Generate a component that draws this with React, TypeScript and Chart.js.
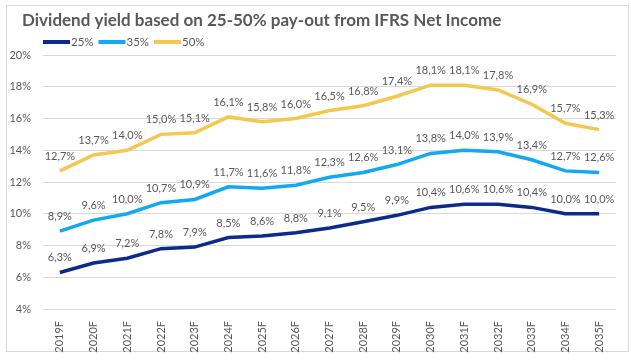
import React, { useEffect, useRef } from 'react';
import { Chart, registerables } from 'chart.js';

Chart.register(...registerables);

const titleText = 'Dividend yield based on 25-50% pay-out from IFRS Net Income';
const years = ['2019F', '2020F', '2021F', '2022F', '2023F', '2024F', '2025F', '2026F', '2027F', '2028F', '2029F', '2030F', '2031F', '2032F', '2033F', '2034F', '2035F'];
const seriesNames = ['25%', '35%', '50%'];
const payout25 = [6.3, 6.9, 7.2, 7.8, 7.9, 8.5, 8.6, 8.8, 9.1, 9.5, 9.9, 10.4, 10.6, 10.6, 10.4, 10.0, 10.0];
const payout35 = [8.9, 9.6, 10.0, 10.7, 10.9, 11.7, 11.6, 11.8, 12.3, 12.6, 13.1, 13.8, 14.0, 13.9, 13.4, 12.7, 12.6];
const payout50 = [12.7, 13.7, 14.0, 15.0, 15.1, 16.1, 15.8, 16.0, 16.5, 16.8, 17.4, 18.1, 18.1, 17.8, 16.9, 15.7, 15.3];
const yMin = 4;
const yMax = 20;
const yStep = 2;

const colors = ['#0c2a8c', '#12a9f2', '#f4c84e'];
const textColor = '#595959';
const font = 'Lato, "Open Sans", sans-serif';

const fmt = (v: number) => v.toFixed(1).replace('.', ',') + '%';

const decorPlugin = {
  id: 'decor',
  beforeDraw(chart: any) {
    const ctx = chart.ctx;
    ctx.save();
    ctx.fillStyle = '#ffffff';
    ctx.fillRect(0, 0, chart.width, chart.height);
    ctx.strokeStyle = '#d9d9d9';
    ctx.lineWidth = 1;
    ctx.strokeRect(6.5, 5.5, 622, 346);
    ctx.restore();
  },
  afterDraw(chart: any) {
    const ctx = chart.ctx;
    ctx.save();
    // title
    ctx.fillStyle = textColor;
    ctx.font = `bold 17px ${font}`;
    ctx.textAlign = 'left';
    ctx.textBaseline = 'alphabetic';
    ctx.fillText(titleText, 22, 26, 481);
    // legend
    ctx.font = `11.5px ${font}`;
    ctx.textBaseline = 'middle';
    seriesNames.forEach((name, i) => {
      const x = 43 + i * 55.5;
      ctx.strokeStyle = colors[i];
      ctx.lineWidth = 4;
      ctx.beginPath();
      ctx.moveTo(x, 42);
      ctx.lineTo(x + 27, 42);
      ctx.stroke();
      ctx.fillStyle = textColor;
      ctx.fillText(name, x + 28, 42.5);
    });
    ctx.restore();
  },
  afterDatasetsDraw(chart: any) {
    const ctx = chart.ctx;
    ctx.save();
    ctx.font = `11px ${font}`;
    ctx.fillStyle = textColor;
    ctx.textAlign = 'center';
    ctx.textBaseline = 'alphabetic';
    chart.data.datasets.forEach((ds: any, di: number) => {
      const meta = chart.getDatasetMeta(di);
      meta.data.forEach((pt: any, i: number) => {
        ctx.fillText(fmt(ds.data[i]), pt.x, pt.y - 11);
      });
    });
    ctx.restore();
  },
};

export default function App() {
  const ref = useRef<HTMLCanvasElement>(null);
  useEffect(() => {
    if (!ref.current) return;
    const chart = new Chart(ref.current, {
      type: 'line',
      data: {
        labels: years,
        datasets: [payout25, payout35, payout50].map((d, i) => ({
          label: seriesNames[i],
          data: d,
          borderColor: colors[i],
          backgroundColor: colors[i],
          borderWidth: 3.5,
          pointRadius: 0,
          tension: 0,
          fill: false,
        })),
      },
      options: {
        responsive: false,
        animation: false,
        devicePixelRatio: 1,
        layout: { padding: { top: 55, right: 15, left: 0, bottom: 0 } },
        plugins: {
          legend: { display: false },
          title: { display: false },
          tooltip: { enabled: false },
        },
        scales: {
          x: {
            offset: true,
            grid: { display: false },
            border: { display: false },
            ticks: {
              autoSkip: false,
              minRotation: 90,
              maxRotation: 90,
              padding: 4,
              color: textColor,
              font: { family: font, size: 11 },
            },
            afterFit: (s: any) => { s.height = 52; },
          },
          y: {
            min: yMin,
            max: yMax,
            border: { display: false },
            grid: { color: '#d9d9d9', lineWidth: 1, drawTicks: false },
            ticks: {
              stepSize: yStep,
              padding: 12,
              color: textColor,
              font: { family: font, size: 11 },
              callback: (v: any) => v + '%',
            },
            afterFit: (s: any) => { s.width = 43; },
          },
        },
      },
      plugins: [decorPlugin],
    });
    return () => chart.destroy();
  }, []);
  return (
    <div style={{ position: 'fixed', left: 0, top: 0, width: 631, height: 361, background: '#fff' }}>
      <canvas ref={ref} width={631} height={361} style={{ width: 631, height: 361, display: 'block' }} />
    </div>
  );
}
